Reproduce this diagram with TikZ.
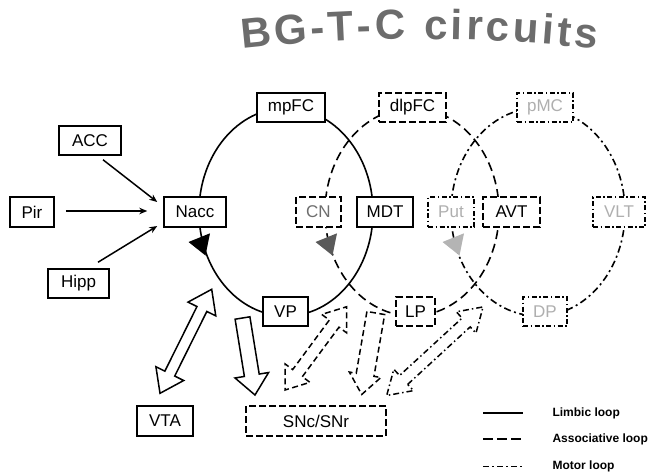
\documentclass[tikz,border=0pt]{standalone}
\usepackage{fontspec}
\setmainfont{Liberation Sans}
\usetikzlibrary{arrows.meta,calc,decorations.text}
\definecolor{titlegray}{RGB}{108,108,108}
\definecolor{cngray}{RGB}{110,110,110}
\definecolor{motorgray}{RGB}{175,175,175}
\definecolor{arrgray}{RGB}{90,90,90}
\definecolor{arrlight}{RGB}{180,180,180}

% #1 style, #2 from, #3 to, #4 shaft half width, #5 head half width, #6 head length
\newcommand\blocksingle[6]{%
  \draw[#1] let \p1=(#2), \p2=(#3), \n1={atan2(\y2-\y1,\x2-\x1)}, \n2={veclen(\x2-\x1,\y2-\y1)} in
    [shift={(\p1)}, rotate=\n1]
    (0,-#4) -- (\n2-#6,-#4) -- (\n2-#6,-#5) -- (\n2,0) -- (\n2-#6,#5) -- (\n2-#6,#4) -- (0,#4) -- cycle;}
\newcommand\blockdouble[6]{%
  \draw[#1] let \p1=(#2), \p2=(#3), \n1={atan2(\y2-\y1,\x2-\x1)}, \n2={veclen(\x2-\x1,\y2-\y1)} in
    [shift={(\p1)}, rotate=\n1]
    (#6,-#4) -- (\n2-#6,-#4) -- (\n2-#6,-#5) -- (\n2,0) -- (\n2-#6,#5) -- (\n2-#6,#4)
    -- (#6,#4) -- (#6,#5) -- (0,0) -- (#6,-#5) -- cycle;}

\begin{document}
\begin{tikzpicture}[x=1pt,y=1pt,
  box/.style={draw, fill=white, line width=1.5pt, inner sep=0pt, minimum height=29pt,
              font=\fontsize{17}{20}\selectfont},
  dbox/.style={box, dash pattern=on 7pt off 3pt},
  ddbox/.style={box, dash pattern=on 5pt off 2.5pt on 1.5pt off 2.5pt},
  limbic/.style={line width=1.6pt},
  assoc/.style={line width=1.6pt, dash pattern=on 9pt off 5pt},
  motor/.style={line width=1.6pt, dash pattern=on 7pt off 3.5pt on 2pt off 3.5pt},
  inarr/.style={line width=1.5pt, -{Stealth[length=8pt,width=6.5pt]}},
  blk/.style={line width=1.5pt, fill=white, line join=miter},
  blkd/.style={blk, dash pattern=on 6pt off 3.5pt},
  blkdd/.style={blk, dash pattern=on 6pt off 3pt on 1.5pt off 3pt},
  legtext/.style={anchor=west, font=\fontsize{12}{14}\selectfont\bfseries}
]
\useasboundingbox (0,0) rectangle (649,-475);

% title
\path[decorate, decoration={text along path, text align=fit to path,
  text={|\fontsize{42}{46}\selectfont\bfseries\color{titlegray}|BG-T-C circuits}}]
  (242,-49) .. controls (360,-36) and (478,-36) .. (597,-49);

% loop centres
\coordinate (limc) at (286,-212);
\coordinate (assc) at (412,-212);
\coordinate (motc) at (538,-212);

% loops
\draw[limbic] (limc) ellipse [x radius=87, y radius=104];
\draw[assoc]  (assc) ellipse [x radius=87, y radius=104];
\draw[motor]  (motc) ellipse [x radius=87, y radius=104];

% direction triangles
\fill[black]    (188.5,-242) -- (210,-233.3) -- (205.5,-255.5) -- cycle;
\fill[arrgray]  (315.5,-242) -- (337,-233.3) -- (332.5,-255.5) -- cycle;
\fill[arrlight] (442.5,-242) -- (464,-233.3) -- (459.5,-255.5) -- cycle;

% nodes
\node[box, minimum width=62pt] (ACC)  at (90,-140.5) {ACC};
\node[box, minimum width=44pt, minimum height=30pt] (Pir)  at (32,-212) {Pir};
\node[box, minimum width=61pt] (Hipp) at (78.5,-283.5) {Hipp};
\node[box, minimum width=62pt, minimum height=30pt] (Nacc) at (195,-212) {Nacc};
\node[box, minimum width=68pt] (mpFC) at (291,-107.5) {mpFC};
\node[box, minimum width=56pt, minimum height=30pt] (MDT)  at (385,-212) {MDT};
\node[box, minimum width=45pt] (VP)   at (285.5,-311.5) {VP};
\node[box, minimum width=56pt, minimum height=30pt] (VTA)  at (165,-421) {VTA};

\node[dbox, minimum width=67pt] (dlpFC) at (412.5,-107.5) {dlpFC};
\node[dbox, minimum width=45pt, minimum height=30pt, text=cngray] (CN) at (318.5,-212) {CN};
\node[dbox, minimum width=57pt, minimum height=30pt] (AVT) at (511.5,-212) {AVT};
\node[dbox, minimum width=39pt] (LP) at (415.5,-311.5) {LP};
\node[dbox, minimum width=140pt, minimum height=30pt] (SN) at (316,-421) {SNc/SNr};

\node[ddbox, minimum width=56pt, text=motorgray] (pMC) at (545,-107.5) {pMC};
\node[ddbox, minimum width=46pt, minimum height=30pt, text=motorgray] (Put) at (451,-212) {Put};
\node[ddbox, minimum width=52pt, minimum height=30pt, text=motorgray] (VLT) at (619,-212) {VLT};
\node[ddbox, minimum width=44pt, text=motorgray] (DP) at (545,-311.5) {DP};

% inputs to Nacc
\draw[inarr] ($(ACC.south)+(13,-4)$) -- ($(Nacc.west)+(-6,10)$);
\draw[inarr] ($(Pir.east)+(11,1)$) -- ($(Nacc.west)+(-16,1)$);
\draw[inarr] ($(Hipp.north)+(19.5,6)$) -- ($(Nacc.west)+(-6,-14)$);

% block arrow ends
\coordinate (vtaA) at (160,-393.3);
\coordinate (vtaB) at (211.7,-289.3);
\coordinate (limA) at (242.5,-318);
\coordinate (limB) at (255,-395);
\coordinate (asdA) at (285,-390);
\coordinate (asdB) at (346.7,-306.7);
\coordinate (assA) at (375.8,-313);
\coordinate (assB) at (361.7,-394.5);
\coordinate (motA) at (386.7,-395.5);
\coordinate (motB) at (483.3,-306.7);

\blockdouble{blk}{vtaA}{vtaB}{5.5}{15.5}{22}
\blocksingle{blk}{limA}{limB}{7.5}{17}{20}
\blockdouble{blkd}{asdA}{asdB}{6}{15.5}{21}
\blocksingle{blkd}{assA}{assB}{9}{16}{20}
\blockdouble{blkdd}{motA}{motB}{6}{14.5}{23}

% legend
\coordinate (l1a) at (483,-413);   \coordinate (l1b) at (523,-413);
\coordinate (l2a) at (483,-439);   \coordinate (l2b) at (523,-439);
\coordinate (l3a) at (483,-466.5); \coordinate (l3b) at (523,-466.5);
\draw[limbic] (l1a) -- (l1b);
\draw[line width=1.6pt, dash pattern=on 10pt off 4pt] (l2a) -- (l2b);
\draw[line width=1.6pt, dash pattern=on 6pt off 3pt on 2pt off 3pt] (l3a) -- (l3b);
\node[legtext] (leg1) at (549,-413) {Limbic loop};
\node[legtext] (leg2) at (549,-439) {Associative loop};
\node[legtext] (leg3) at (549,-466.5) {Motor loop};
\end{tikzpicture}
\end{document}
